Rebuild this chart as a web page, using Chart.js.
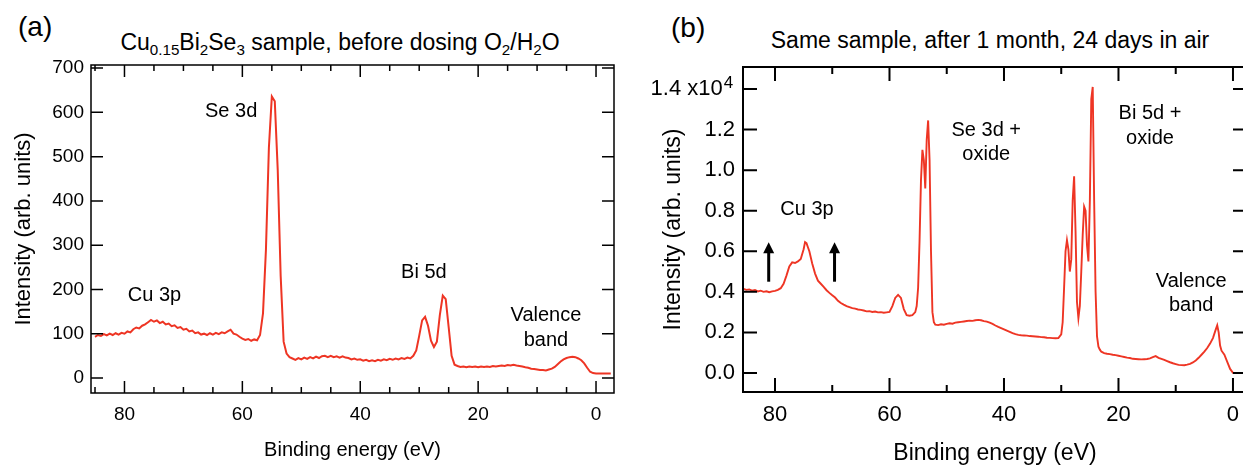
<!DOCTYPE html>
<html>
<head>
<meta charset="utf-8">
<script src="https://cdn.jsdelivr.net/npm/chart.js@4.4.1/dist/chart.umd.min.js"></script>
<style>
html,body{margin:0;padding:0;background:#fff;overflow:hidden;width:1243px;height:468px;}
body{position:relative;font-family:'Liberation Sans',Arial,Helvetica,sans-serif;color:#000;}
.w{position:absolute;top:0;}
.t{position:absolute;white-space:nowrap;line-height:1;}
sub{font-size:66%;vertical-align:baseline;position:relative;top:0.32em;}
</style>
</head>
<body>
<div class="t" style="left:18px;top:13px;font-size:28px;">(a)</div>
<div class="t" style="left:340px;top:31px;font-size:23px;transform:translateX(-50%);">Cu<sub>0.15</sub>Bi<sub>2</sub>Se<sub>3</sub> sample, before dosing O<sub>2</sub>/H<sub>2</sub>O</div>
<div class="t" style="left:671px;top:14px;font-size:28px;">(b)</div>
<div class="t" style="left:990px;top:29px;font-size:23px;transform:translateX(-50%);">Same sample, after 1 month, 24 days in air</div>
<div class="w" style="left:0;width:620px;height:468px;"><canvas id="c1" width="620" height="468"></canvas></div>
<div class="w" style="left:620px;width:630px;height:468px;"><canvas id="c2" width="630" height="468"></canvas></div>
<script>
const FONT = "'Liberation Sans', Arial, Helvetica, sans-serif";
Chart.defaults.font.family = FONT;
Chart.defaults.color = '#000';
const RED = '#ee3524';

// ---------- Panel (a) data ----------
const leftEnergy = [
85,84.5,84,83.5,83,82.5,82,81.5,81,80.5,
80,79.5,79,78.5,78,77.5,77,76.5,76,75.5,
75,74.5,74,73.5,73,72.5,72,71.5,71,70.5,
70,69.5,69,68.5,68,67.5,67,66.5,66,65.5,
65,64.5,64,63.5,63,62.5,62,61.5,61,60.5,
60,59.5,59,58.5,58,57.5,57,56.5,56,55.5,
55,54.5,54,53.5,53,52.5,52,51.5,51,50.5,
50,49.5,49,48.5,48,47.5,47,46.5,46,45.5,
45,44.5,44,43.5,43,42.5,42,41.5,41,40.5,
40,39.5,39,38.5,38,37.5,37,36.5,36,35.5,
35,34.5,34,33.5,33,32.5,32,31.5,31,30.5,
30,29.5,29,28.5,28,27.5,27,26.5,26,25.5,
25,24.5,24,23.5,23,22.5,22,21.5,21,20.5,
20,19.5,19,18.5,18,17.5,17,16.5,16,15.5,
15,14.5,14,13.5,13,12.5,12,11.5,11,10.5,
10,9.5,9,8.5,8,7.5,7,6.5,6,5.5,
5,4.5,4,3.5,3,2.5,2,1.5,1,0.5,
0,-0.5,-1,-1.5,-2,-2.5];
const leftIntensity = [
93,97,95,99,96,100,97,101,98,102,
100,105,103,110,114,112,118,121,126,131,
127,130,124,127,121,123,117,119,113,115,
109,111,105,107,101,103,98,100,97,101,
98,102,99,103,101,105,109,100,98,93,
89,86,88,84,87,85,97,146,290,520,
636,625,470,230,82,55,47,44,41,45,
42,46,43,47,44,48,45,49,50,47,
50,47,49,46,49,46,45,42,44,41,
42,39,41,38,40,38,41,39,42,40,
43,41,44,42,45,43,46,44,50,62,
95,130,138,118,84,70,82,142,186,178,
115,50,30,27,25,26,24,26,25,26,
24,26,25,26,25,27,26,27,28,27,
29,28,30,28,27,26,24,23,21,20,
19,18,18,17,19,21,25,31,37,42,
45,47,48,47,44,40,33,23,14,11,
10,10,10,10,10,10];
const leftXTicks = [0,20,40,60,80];
const leftXMinor = [85,75,70,65,55,50,45,35,30,25,15,10,5];
const leftYTicks = [0,100,200,300,400,500,600,700];
const leftNotes = [
  {text:'Se 3d', x:61.9, y:603},
  {text:'Cu 3p', x:74.9, y:187},
  {text:'Bi 5d', x:29.2, y:239},
  {text:'Valence', x:8.5, y:142},
  {text:'band', x:8.5, y:84}
];

// ---------- Panel (b) data ----------
const rightEnergy = [
85.5,85,84.5,84,83.5,83,82.5,82,81.5,81,80.5,80,79.5,79,78.5,78,77.5,77,76.5,76,75.5,75,74.75,74.5,74.25,74,
73.5,73,72.5,72,71.5,71,70.5,70,69.5,69,68.5,68,67.5,67,66.5,66,65.5,65,64.5,64,63.5,63,62.5,62,61.5,61,60.5,60,
59.5,59,58.5,58,57.5,57,56.5,56,55.5,55.25,55,54.75,54.5,54.25,54,53.75,53.5,53.25,53,52.75,52.5,52.25,52,
51.5,51,50.5,50,49.5,49,48.5,48,47.5,47,46.5,46,45.5,45,44.5,44,43.5,43,42.5,42,41.5,41,40.5,40,
39.5,39,38.5,38,37.5,37,36.5,36,35.5,35,34.5,34,33.5,33,32.5,32,31.5,31,30.5,30,
29.75,29.5,29.25,29,28.75,28.5,28.25,28,27.75,27.5,27.25,27,26.75,26.5,26.25,26,25.75,25.5,25.25,25,24.75,24.5,24.25,24,23.75,23.5,23.25,23,
22.5,22,21.5,21,20.5,20,19.5,19,18.5,18,17.5,17,16.5,16,15.5,15,14.5,14,13.5,13,12.5,12,11.5,11,10.5,10,
9.5,9,8.5,8,7.5,7,6.5,6,5.5,5,4.5,4,3.5,3,2.75,2.5,2.25,2,1.5,1,0.5,0,-0.5,-1,-1.5,-2,-2.5];
const rightIntensity = [
4150,4100,4120,4060,4090,4020,4060,4000,4030,3980,4020,4050,4100,4180,4400,4800,5250,5450,5420,5500,5620,6100,6450,6400,6200,6000,
5400,4900,4550,4400,4250,4080,3950,3830,3720,3560,3450,3370,3300,3250,3200,3170,3130,3110,3080,3040,3050,3010,3030,2990,3000,2970,2990,3010,
3300,3700,3850,3700,3150,2850,2820,2850,3000,3300,4200,6500,9500,11000,10500,9100,11500,12450,10500,6000,3000,2500,2380,
2360,2400,2380,2420,2450,2430,2480,2500,2520,2540,2560,2580,2570,2600,2620,2600,2560,2530,2480,2420,2340,2270,2210,2150,
2090,2030,1970,1920,1880,1860,1850,1840,1820,1810,1800,1790,1770,1760,1740,1730,1720,1710,1720,1900,
2500,4200,6000,6550,6100,5000,5600,8500,9700,7000,3500,2700,3300,5000,6800,8200,8000,6300,5500,8500,13500,14100,8500,4000,1800,1300,1150,1050,
980,950,930,900,880,850,820,790,760,740,700,690,680,670,680,690,720,780,830,750,700,650,590,530,480,440,
400,390,380,410,450,520,620,750,900,1050,1230,1450,1720,2150,2350,2000,1350,1100,900,550,200,10,0,0,0,0,0];
const rightXTicks = [0,20,40,60,80];
const rightXMinor = [10,30,50,70];
const rightYTicks = [0,2000,4000,6000,8000,10000,12000,14000];
const rightNotes = [
  {text:'Cu 3p', x:74.4, y:8083},
  {text:'Se 3d +', x:43.1, y:11976},
  {text:'oxide', x:43.1, y:10793},
  {text:'Bi 5d +', x:14.5, y:12814},
  {text:'oxide', x:14.5, y:11582},
  {text:'Valence', x:7.3, y:4534},
  {text:'band', x:7.3, y:3351}
];
const rightArrows = [
  {x:81.1, from:4500, to:6450},
  {x:69.6, from:4500, to:6450}
];

function framePlugin(o){
  return {
    id:'frame',
    afterDraw(chart){
      const {ctx, chartArea:a, scales:{x, y}} = chart;
      ctx.save();
      ctx.strokeStyle = '#000'; ctx.fillStyle = '#000';
      ctx.lineWidth = o.lw; ctx.lineCap = 'butt';
      ctx.strokeRect(a.left, a.top, a.right - a.left, a.bottom - a.top);
      const xt = (vals, len) => vals.forEach(v => {
        const p = x.getPixelForValue(v);
        if (p < a.left - 1 || p > a.right + 1) return;
        ctx.beginPath();
        ctx.moveTo(p, a.bottom); ctx.lineTo(p, a.bottom - len);
        ctx.moveTo(p, a.top); ctx.lineTo(p, a.top + len);
        ctx.stroke();
      });
      const yt = (vals, len) => vals.forEach(v => {
        const p = y.getPixelForValue(v);
        ctx.beginPath();
        ctx.moveTo(a.left, p); ctx.lineTo(a.left + len, p);
        ctx.moveTo(a.right, p); ctx.lineTo(a.right - len, p);
        ctx.stroke();
      });
      xt(o.xMajor, o.major); xt(o.xMinor, o.minor); yt(o.yMajor, o.major);
      ctx.font = o.noteFont; ctx.textAlign = 'center'; ctx.textBaseline = 'middle';
      o.notes.forEach(n => ctx.fillText(n.text, x.getPixelForValue(n.x), y.getPixelForValue(n.y)));
      (o.arrows || []).forEach(ar => {
        const px = x.getPixelForValue(ar.x), p0 = y.getPixelForValue(ar.from), p1 = y.getPixelForValue(ar.to);
        ctx.lineWidth = 3;
        ctx.beginPath(); ctx.moveTo(px, p0); ctx.lineTo(px, p1 + 8); ctx.stroke();
        ctx.beginPath(); ctx.moveTo(px, p1); ctx.lineTo(px - 5.5, p1 + 11); ctx.lineTo(px + 5.5, p1 + 11); ctx.closePath(); ctx.fill();
      });
      if (o.after) o.after(chart);
      ctx.restore();
    }
  };
}

function makeChart(id, o){
  return new Chart(document.getElementById(id), {
    type:'line',
    data:{datasets:[{
      data: o.energy.map((e, i) => ({x:e, y:o.intensity[i]})),
      borderColor: RED, borderWidth: o.lineW, pointRadius:0, tension:0, fill:false
    }]},
    options:{
      responsive:false, animation:false,
      layout:{padding:{left:0, right:o.padRight, top:o.padTop, bottom:0}},
      plugins:{legend:{display:false}, tooltip:{enabled:false}},
      scales:{
        x:{type:'linear', reverse:true, min:o.xmin, max:o.xmax,
          afterBuildTicks:s => { s.ticks = o.xMajor.map(v => ({value:v})); },
          afterFit:s => { s.height = o.xh; },
          grid:{display:false, drawTicks:false}, border:{display:false},
          ticks:{font:{size:o.tickSize}, padding:o.xpad, maxRotation:0, minRotation:0, autoSkip:false, color:'#000', callback:v => String(v)},
          title:{display:true, text:'Binding energy (eV)', color:'#000', font:{size:o.xTitleSize}, padding:{top:0, bottom:o.xtb}}
        },
        y:{type:'linear', min:o.ymin, max:o.ymax,
          afterBuildTicks:s => { s.ticks = o.yMajor.map(v => ({value:v})); },
          afterFit:s => { s.width = o.yw; },
          grid:{display:false, drawTicks:false}, border:{display:false},
          ticks:{font:{size:o.tickSize}, padding:o.ypad, autoSkip:false, color:'#000', callback:o.yfmt},
          title:{display:true, text:'Intensity (arb. units)', color:'#000', font:{size:o.yTitleSize}, padding:{top:o.ytt, bottom:0}}
        }
      }
    },
    plugins:[framePlugin(o)]
  });
}

makeChart('c1', {
  energy:leftEnergy, intensity:leftIntensity, lineW:2,
  xmin:-3.05, xmax:85.68, ymin:-34, ymax:707,
  xMajor:leftXTicks, xMinor:leftXMinor, yMajor:leftYTicks,
  padRight:6, padTop:65, xh:75, yw:91,
  tickSize:19, xpad:10, ypad:7, xTitleSize:20, xtb:6, yTitleSize:22, ytt:11,
  yfmt:v => String(v),
  lw:1.5, major:12, minor:6, noteFont:'20px ' + FONT, notes:leftNotes
});

makeChart('c2', {
  energy:rightEnergy, intensity:rightIntensity, lineW:1.9,
  xmin:-2.45, xmax:85.59, ymin:-937, ymax:15084,
  xMajor:rightXTicks, xMinor:rightXMinor, yMajor:rightYTicks,
  padRight:3, padTop:67, xh:76, yw:123,
  tickSize:22, xpad:10, ypad:8, xTitleSize:23, xtb:1, yTitleSize:23, ytt:40,
  yfmt:v => v === 14000 ? '1.4 x10  ' : (v / 10000).toFixed(1),
  lw:2, major:14, minor:7, noteFont:'20px ' + FONT, notes:rightNotes, arrows:rightArrows,
  after:chart => {
    const {ctx, chartArea:a, scales:{y}} = chart;
    ctx.font = '22px ' + FONT;
    const wSp = ctx.measureText('  ').width;
    const xEnd = a.left - 8 - wSp;
    const py = y.getPixelForValue(14000);
    ctx.font = '17px ' + FONT; ctx.textAlign = 'left'; ctx.textBaseline = 'alphabetic';
    ctx.fillText('4', xEnd + 1, py - 1);
  }
});
</script>
</body>
</html>
